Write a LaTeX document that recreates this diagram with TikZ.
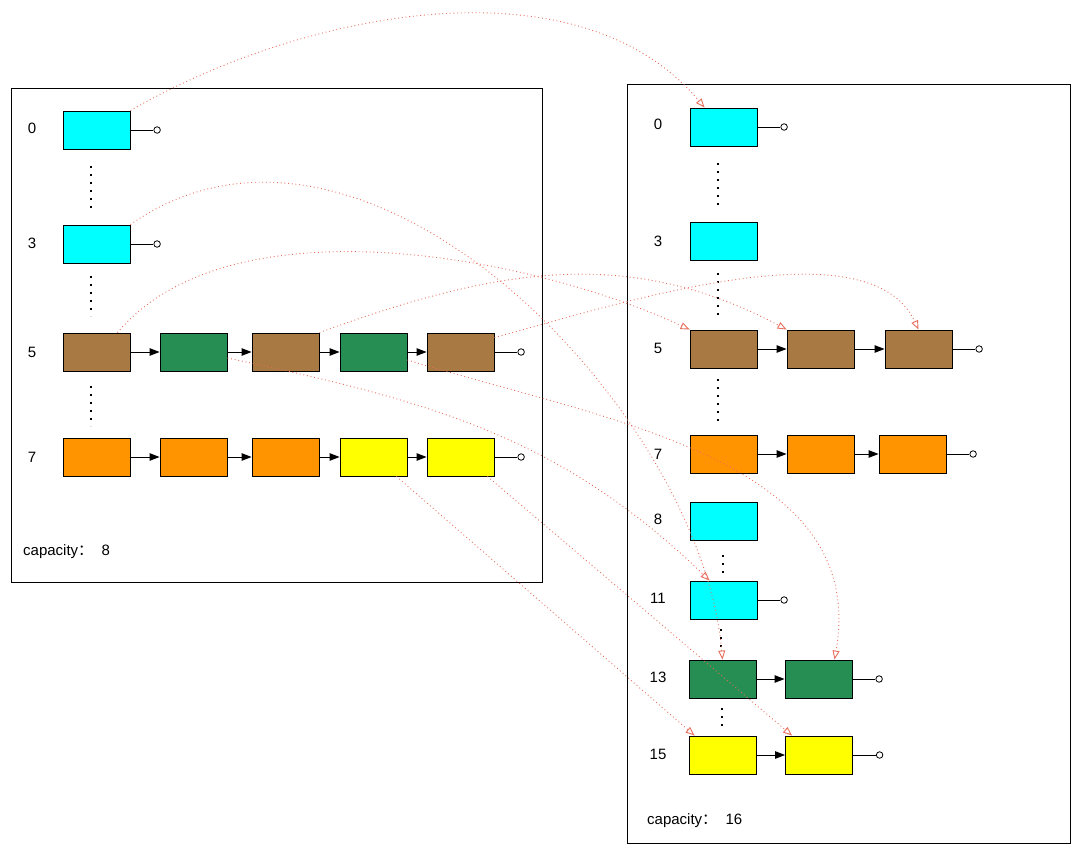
\documentclass[tikz,border=0pt]{standalone}
\usepackage{fontspec}
\setmainfont{Liberation Sans}
\newfontfamily\cjk{Noto Sans CJK SC}
\usetikzlibrary{positioning,arrows.meta}
\definecolor{hcyan}{RGB}{0,255,255}
\definecolor{hbrown}{RGB}{168,121,66}
\definecolor{hgreen}{RGB}{38,142,82}
\definecolor{horange}{RGB}{255,147,0}
\definecolor{hyellow}{RGB}{255,255,0}
\definecolor{hred}{RGB}{228,84,64}
\begin{document}
\begin{tikzpicture}[x=1pt, y=-1pt]
\tikzset{
	bucket/.style = {
		draw, rectangle, line width=0.9pt,
		minimum width=67pt, minimum height=38pt, inner sep=0pt
	},
	cy/.style={fill=hcyan},
	br/.style={fill=hbrown},
	gr/.style={fill=hgreen},
	og/.style={fill=horange},
	ye/.style={fill=hyellow},
	nil/.style={
		draw, circle, fill=white, line width=0.8pt,
		minimum size=6.5pt, inner sep=0pt
	},
	idx/.style={
		font=\fontsize{15}{18}\selectfont, inner sep=0pt
	},
	link/.style={
		draw, line width=0.9pt, -{Triangle[length=10pt,width=7.5pt]}
	},
	vdots/.style={
		line width=1.7pt, dash pattern=on 1.7pt off 6.3pt
	},
	frame/.style={
		draw, line width=0.9pt
	},
	moved/.style={
		draw=hred!85, line width=0.9pt, dash pattern=on 0.9pt off 2.8pt,
		-{Triangle[open,length=9pt,width=7pt]}
	},
}
\useasboundingbox (0,0) rectangle (1080,854);

% old table
\draw[frame] (11,88) rectangle (542,582);

\foreach \i/\y in {0/128,3/243,5/352,7/457}
{
  \node[idx] (li\i) at (32,\y) {\i};
}

\node[bucket, cy] (l0) at (96.5,130) {};
\node[bucket, cy] (l3) at (96.5,244) {};

\node[bucket, br] (l5a) at (96.5,352) {};
\node[bucket, gr] (l5b) at (193.5,352) {};
\node[bucket, br] (l5c) at (285.5,352) {};
\node[bucket, gr] (l5d) at (373.5,352) {};
\node[bucket, br] (l5e) at (460.5,352) {};

\node[bucket, og] (l7a) at (96.5,457) {};
\node[bucket, og] (l7b) at (193.5,457) {};
\node[bucket, og] (l7c) at (285.5,457) {};
\node[bucket, ye] (l7d) at (373.5,457) {};
\node[bucket, ye] (l7e) at (460.5,457) {};

\node[idx, anchor=west] (lcap) at (23,552) {capacity{\cjk ：}\ \ 8};

\draw[vdots] (91,166) -- (91,208);
\draw[vdots] (91,276) -- (91,316);
\draw[vdots] (91,386) -- (91,426);

% new table
\draw[frame] (627,84) rectangle (1070,843);

\foreach \i/\y in {0/124,3/241,5/348,7/454,8/519,11/598,13/677,15/754}
{
  \node[idx] (ri\i) at (658,\y) {\i};
}

\node[bucket, cy] (r0) at (723.5,127) {};
\node[bucket, cy] (r3) at (723.5,241) {};

\node[bucket, br] (r5a) at (723.5,349) {};
\node[bucket, br] (r5b) at (820.5,349) {};
\node[bucket, br] (r5c) at (918.5,349) {};

\node[bucket, og] (r7a) at (723.5,454) {};
\node[bucket, og] (r7b) at (820.5,454) {};
\node[bucket, og] (r7c) at (912.5,454) {};

\node[bucket, cy] (r8) at (723.5,521) {};
\node[bucket, cy] (r11) at (723.5,600) {};

\node[bucket, gr] (r13a) at (722.5,679) {};
\node[bucket, gr] (r13b) at (818.5,679) {};

\node[bucket, ye] (r15a) at (722.5,755) {};
\node[bucket, ye] (r15b) at (819,755) {};

\node[idx, anchor=west] (rcap) at (647,821) {capacity{\cjk ：}\ \ 16};

\draw[vdots] (718,163) -- (718,205);
\draw[vdots] (718,273) -- (718,315);
\draw[vdots] (718,379) -- (718,421);
\draw[vdots] (723,555) -- (723,573);
\draw[vdots] (721,629) -- (721,651);
\draw[vdots] (722,708) -- (722,726);

% chains
\path (l5a) edge[link] (l5b);
\path (l5b) edge[link] (l5c);
\path (l5c) edge[link] (l5d);
\path (l5d) edge[link] (l5e);
\foreach \a/\b in {a/b,b/c,c/d,d/e}
{
  \path (l7\a) edge[link] (l7\b);
}
\foreach \a/\b in {5a/5b,5b/5c,7a/7b,7b/7c,13a/13b,15a/15b}
{
  \path (r\a) edge[link] (r\b);
}

% null ends
\foreach \n in {l0,l3,l5e,l7e,r0,r5c,r7c,r11,r13b,r15b}
{
  \node[nil, right=23pt of \n] (\n nil) {};
  \draw[line width=0.9pt] (\n) -- (\n nil);
}

% moved entries
\draw[moved] (l0.north east) to[out=30,in=130,looseness=0.88] ([xshift=15pt]r0.north west);
\draw[moved] (l3.north east) to[out=35,in=95,out looseness=1,in looseness=0.87] (r13a.north);
\draw[moved] ([xshift=21pt]l5a.north) to[out=50,in=155,looseness=0.78] (r5a.north west);
\draw[moved] ([yshift=-6pt]l5b.east) to[out=-12,in=136] ([xshift=20pt]r11.north west);
\draw[moved] (l5c.north east) to[out=20,in=152] (r5b.north west);
\draw[moved] ([yshift=-8pt]l5d.east) to[out=-17,in=80] ([xshift=16pt]r13b.north);
\draw[moved] ([yshift=-5pt]l5e.north east) to[out=15,in=115,looseness=0.72] (r5c.north);
\draw[moved] ([xshift=23pt]l7d.south) -- ([xshift=6pt]r15a.north west);
\draw[moved] ([xshift=-7pt]l7e.south east) -- ([xshift=7pt]r15b.north west);

\end{tikzpicture}
\end{document}
